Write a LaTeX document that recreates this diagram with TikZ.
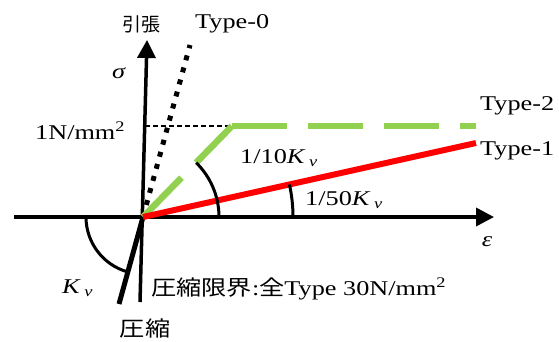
\documentclass[tikz,border=0pt]{standalone}
\usepackage{fontspec}
\setmainfont[FakeStretch=1.25]{Liberation Serif}
\newfontfamily\jp[FakeStretch=1.2]{Noto Sans CJK JP}
\newfontfamily\jpn{Noto Sans CJK JP}
\usetikzlibrary{arrows.meta}
\definecolor{tgreen}{RGB}{146,208,80}
\begin{document}
\begin{tikzpicture}[x=1pt,y=-1pt,
  font=\fontsize{21}{25}\selectfont,
  every node/.style={inner sep=0pt},
  axisline/.style={line width=3.5pt,-{Triangle[length=18pt,width=18pt]}},
  anglemark/.style={line width=3pt},
  type0line/.style={line width=5pt,dash pattern=on 5pt off 7.5pt},
  type2line/.style={tgreen,line width=6.5pt,dash pattern=on 55pt off 21pt},
  type1line/.style={red,line width=6pt},
  guide/.style={line width=1.4pt,dash pattern=on 5pt off 3pt}]
\useasboundingbox (0,0) rectangle (559,341);
\coordinate (O) at (143,217);
\coordinate (xs) at (14,217);
\coordinate (xe) at (494,217);
\coordinate (ys) at (140,302);
\coordinate (ye) at (147,40);
\coordinate (t0) at (190,45);
\coordinate (g1) at (232,126);
\coordinate (g2) at (476,126);
\coordinate (r1) at (476,143);
\coordinate (d0) at (145,126);
\coordinate (c1) at (119,304);
% axes
\draw[axisline] (xs) -- (xe);
\draw[axisline] (ys) -- (ye);
% guide
\draw[guide] (d0) -- (g1);
% compression line
\draw[line width=5pt] (O) -- (c1);
% curves
\draw[type0line] (O) -- (t0);
\draw[type2line] (O) -- (g1);
\draw[type2line] (g1) -- (g2);
\draw[type1line] (O) -- (r1);
% angle marks
\draw[anglemark] ([xshift=76pt]O) arc[start angle=0,end angle=45.6,radius=76pt];
\draw[anglemark] ([xshift=150pt]O) arc[start angle=0,end angle=12.5,radius=150pt];
\draw[anglemark] ([xshift=-57pt]O) arc[start angle=180,end angle=254.6,radius=57pt];
% labels
\node (lyz) at (141,24) {\jpn\fontsize{19}{22}\selectfont 引張};
\node[anchor=base west] (lt0) at (195,28) {Type-0};
\node (ls) at (119,73) {\textit{σ}};
\node[anchor=base west] (l1n) at (35,139) {1N/mm\textsuperscript{2}};
\node[anchor=base west] (l10) at (240,163) {1/10\textit{K}\,\textsubscript{\textit{v}}};
\node[anchor=base west] (l50) at (305,205) {1/50\textit{K}\,\textsubscript{\textit{v}}};
\node[anchor=base west] (lt2) at (480,110) {Type-2};
\node[anchor=base west] (lt1) at (480,155) {Type-1};
\node (le) at (487,242) {\textit{ε}};
\node[anchor=base west] (lkv) at (62,293) {\textit{K}\,\textsubscript{\textit{v}}};
\node[anchor=base west] (lcl) at (151,295) {{\jp 圧縮限界}:{\jp 全}Type 30N/mm\textsuperscript{2}};
\node (lc) at (145,328) {\jp 圧縮};
\end{tikzpicture}
\end{document}
